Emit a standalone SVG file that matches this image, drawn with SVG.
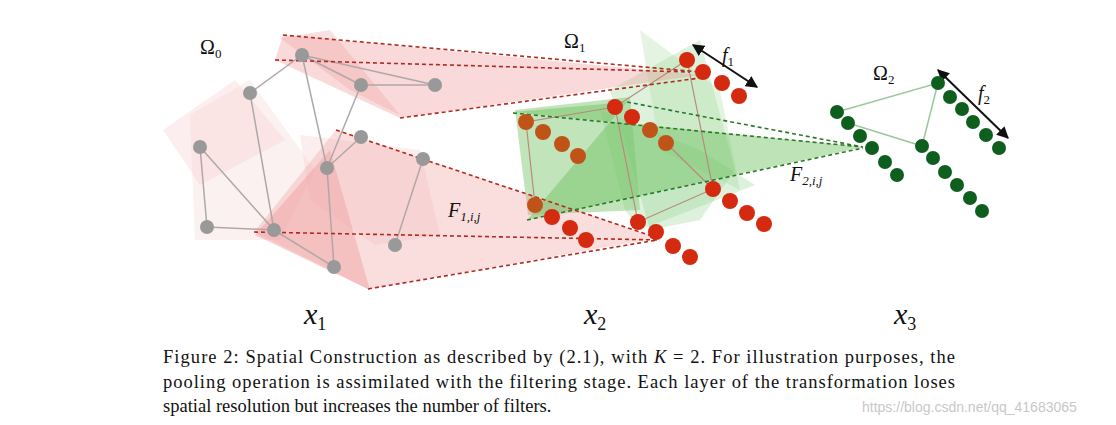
<svg xmlns="http://www.w3.org/2000/svg" width="1116" height="425" viewBox="0 0 1116 425">
<style>
.g{fill:#999;stroke:none}
.r{fill:#d42a10}
.o{fill:#c05418}
.gr{fill:#0e5e1e}
.ge{stroke:#b0a8a8;stroke-width:1.5;fill:none}
.re{stroke:#b98a7a;stroke-width:1.2;fill:none}
.gre{stroke:#9cc79c;stroke-width:1.5;fill:none}
.dr{stroke:#b22a20;stroke-width:1.6;stroke-dasharray:4 3;fill:none}
.dg{stroke:#2a7a2a;stroke-width:1.6;stroke-dasharray:4 3;fill:none}
.t{font-family:"Liberation Serif",serif;fill:#111}
.m{font-family:"Liberation Serif",serif;font-style:italic;fill:#111}
</style>
<defs><marker id="a" viewBox="0 0 10 10" refX="9" refY="5" markerWidth="6" markerHeight="6" orient="auto-start-reverse"><path d="M0,0L10,5L0,10z" fill="#111"/></marker></defs>
<rect width="1116" height="425" fill="#fff"/>
<g id="patches">
<polygon points="163,130 235,80 285,140 200,185" fill="#f5c6c6" opacity="0.3"/>
<polygon points="190,115 250,80 315,170 280,240 195,240" fill="#f5c6c6" opacity="0.25"/>
<polygon points="300,135 420,150 440,235 375,245 310,200" fill="#f5c6c6" opacity="0.3"/>
<polygon points="255,235 330,150 370,290" fill="#ee9c9c" opacity="0.45"/>
<polygon points="280,38 330,30 400,115 350,90" fill="#f2a8a8" opacity="0.35"/>
<polygon points="515,110 630,97 640,210 528,215" fill="#66bb55" opacity="0.4"/>
<polygon points="610,90 700,40 735,170 700,220 650,230" fill="#8fd08a" opacity="0.3"/>
<polygon points="640,30 720,90 740,190 660,150" fill="#a8dca0" opacity="0.3"/>
<polygon points="600,110 700,150 755,185 640,230 625,210" fill="#8fd08a" opacity="0.3"/>
</g>
<g id="wedges">
<polygon points="283,35 275,60 400,118 700,75" fill="#f0a0a0" opacity="0.4"/>
<polygon points="336,130 254,232 368,289 658,238" fill="#f0a0a0" opacity="0.35"/>
<polygon points="513,112 627,102 527,220 863,147" fill="#6cc060" opacity="0.45"/>
</g>
<g id="edges">
<path class="ge" d="M302,55L250,93M302,55L361,85M302,55L435,85M361,85L435,85M302,55L327,168M361,85L327,168M250,93L274,230M200,147L207,227M200,147L274,230M207,227L274,230M274,230L334,267M327,168L361,137M327,168L334,267M423,159L395,245"/>
<path class="re" d="M687,60L615,107L526,122L535,205M615,107L638,222L713,189L687,60M666,143L713,189"/>
<path class="gre" d="M837,112L938,83L922,146L848,123"/>
</g>
<g id="connectors">
<path class="dr" d="M283,35L700,72M275,60L690,72M400,118L700,78M336,130L658,238M254,232L660,240M368,289L657,240"/>
<path class="dg" d="M513,113L863,147M627,102L863,147M527,220L863,148"/>
<path d="M693,45L757,87" stroke="#111" stroke-width="2" marker-start="url(#a)" marker-end="url(#a)"/>
<path d="M938,70L1008,138" stroke="#111" stroke-width="2" marker-start="url(#a)" marker-end="url(#a)"/>
</g>
<g id="x1">
<circle class="g" cx="302" cy="55" r="7"/><circle class="g" cx="250" cy="93" r="7"/><circle class="g" cx="361" cy="85" r="7"/><circle class="g" cx="435" cy="85" r="7"/><circle class="g" cx="200" cy="147" r="7"/><circle class="g" cx="207" cy="227" r="7"/><circle class="g" cx="274" cy="230" r="7"/><circle class="g" cx="327" cy="168" r="7"/><circle class="g" cx="361" cy="137" r="7"/><circle class="g" cx="423" cy="159" r="7"/><circle class="g" cx="395" cy="245" r="7"/><circle class="g" cx="334" cy="267" r="7"/>
</g>
<g id="x2">
<circle class="r" cx="687" cy="60" r="8"/><circle class="r" cx="703" cy="72" r="8"/><circle class="r" cx="722" cy="83" r="8"/><circle class="r" cx="739" cy="96" r="8"/>
<circle class="r" cx="615" cy="107" r="8"/><circle class="r" cx="632" cy="117" r="8"/><circle class="o" cx="650" cy="130" r="8"/><circle class="o" cx="666" cy="143" r="8"/>
<circle class="o" cx="526" cy="122" r="8"/><circle class="o" cx="543" cy="132" r="8"/><circle class="o" cx="562" cy="144" r="8"/><circle class="o" cx="578" cy="156" r="8"/>
<circle class="o" cx="535" cy="205" r="8"/><circle class="r" cx="552" cy="217" r="8"/><circle class="r" cx="570" cy="228" r="8"/><circle class="r" cx="586" cy="240" r="8"/>
<circle class="r" cx="638" cy="222" r="8"/><circle class="r" cx="656" cy="232" r="8"/><circle class="r" cx="673" cy="246" r="8"/><circle class="r" cx="690" cy="257" r="8"/>
<circle class="r" cx="713" cy="189" r="8"/><circle class="r" cx="730" cy="201" r="8"/><circle class="r" cx="747" cy="213" r="8"/><circle class="r" cx="764" cy="224" r="8"/>
</g>
<g id="x3">
<circle class="gr" cx="837" cy="112" r="7"/><circle class="gr" cx="848" cy="123" r="7"/><circle class="gr" cx="860" cy="136" r="7"/><circle class="gr" cx="872" cy="148" r="7"/><circle class="gr" cx="885" cy="162" r="7"/><circle class="gr" cx="897" cy="175" r="7"/>
<circle class="gr" cx="938" cy="83" r="7"/><circle class="gr" cx="950" cy="97" r="7"/><circle class="gr" cx="962" cy="109" r="7"/><circle class="gr" cx="973" cy="122" r="7"/><circle class="gr" cx="986" cy="135" r="7"/><circle class="gr" cx="999" cy="148" r="7"/>
<circle class="gr" cx="922" cy="146" r="7"/><circle class="gr" cx="933" cy="158" r="7"/><circle class="gr" cx="945" cy="172" r="7"/><circle class="gr" cx="957" cy="185" r="7"/><circle class="gr" cx="970" cy="198" r="7"/><circle class="gr" cx="982" cy="211" r="7"/>
</g>
<g id="labels">
<text class="t" x="200" y="54" style="font-size:20px">Ω<tspan style="font-size:13px" dy="4">0</tspan></text>
<text class="t" x="564" y="48" style="font-size:20px">Ω<tspan style="font-size:13px" dy="4">1</tspan></text>
<text class="t" x="873" y="80" style="font-size:20px">Ω<tspan style="font-size:13px" dy="4">2</tspan></text>
<text class="m" x="722" y="62" style="font-size:20px">f<tspan style="font-size:13px;font-style:normal" dy="4">1</tspan></text>
<text class="m" x="978" y="100" style="font-size:20px">f<tspan style="font-size:13px;font-style:normal" dy="4">2</tspan></text>
<text class="m" x="448" y="217" style="font-size:20px">F<tspan style="font-size:13px" dy="4">1,i,j</tspan></text>
<text class="m" x="790" y="181" style="font-size:20px">F<tspan style="font-size:13px" dy="4">2,i,j</tspan></text>
<text class="m" x="304" y="324" style="font-size:30px">x<tspan style="font-size:18px;font-style:normal" dy="6">1</tspan></text>
<text class="m" x="584" y="324" style="font-size:30px">x<tspan style="font-size:18px;font-style:normal" dy="6">2</tspan></text>
<text class="m" x="894" y="324" style="font-size:30px">x<tspan style="font-size:18px;font-style:normal" dy="6">3</tspan></text>
</g>
<g id="caption">
<text class="t" x="163" y="363" style="font-size:18.5px" textLength="792" lengthAdjust="spacing">Figure 2: Spatial Construction as described by (2.1), with <tspan font-style="italic">K</tspan> = 2. For illustration purposes, the</text>
<text class="t" x="163" y="388" style="font-size:18.5px" textLength="792" lengthAdjust="spacing">pooling operation is assimilated with the filtering stage. Each layer of the transformation loses</text>
<text class="t" x="163" y="412" style="font-size:18.5px">spatial resolution but increases the number of filters.</text>
<text x="862" y="412" font-family="Liberation Sans,sans-serif" style="font-size:14px" fill="#c8c8c8">https://blog.csdn.net/qq_41683065</text>
</g>
</svg>
